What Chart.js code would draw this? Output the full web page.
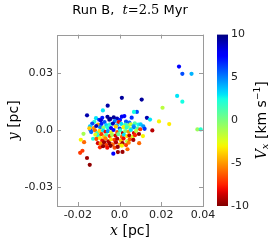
<!DOCTYPE html>
<html>
<head>
<meta charset="utf-8">
<script src="https://cdn.jsdelivr.net/npm/chart.js@4.4.0/dist/chart.umd.min.js"></script>
<style>
html,body{margin:0;padding:0;background:#fff;}
#wrap{width:273px;height:246px;position:relative;}
</style>
</head>
<body>
<div id="wrap"><canvas id="c" width="273" height="246"></canvas></div>
<script>
// ---- data ----
const xTicks = [-0.02, 0.0, 0.02, 0.04];
const xTickLabels = ['-0.02', '0.0', '0.02', '0.04'];
const yTicks = [-0.03, 0.0, 0.03];
const yTickLabels = ['-0.03', '0.0', '0.03'];
const cbTicks = [-10, -5, 0, 5, 10];
const cbTickLabels = ['-10', '-5', '0', '5', '10'];

const posX = [
  0.0285, 0.0301, 0.0345, 0.0276, 0.0301, 0.0206, 0.0189, 0.0238, 0.0373, 0.0389,
  0.0011, 0.0106, -0.0057, -0.0080, -0.0156, 0.0083, 0.0069, 0.0131, 0.0146, 0.0157,
  0.0094, 0.0112, -0.0173, -0.0186, -0.0170, -0.0178, -0.0189, -0.0156, -0.0143, -0.0030,
  -0.0008, 0.0014, 0.0038, -0.0139,
  -0.0113, -0.0098, -0.0083, -0.0058, -0.0044, -0.0028, -0.0012, 0.0011, 0.0023, 0.0058,
  -0.0121, -0.0090, -0.0072, -0.0049, -0.0023, 0.0002, 0.0031, 0.0047, 0.0073, 0.0090,
  0.0101, 0.0114, 0.0120, -0.0004, -0.0131, -0.0103, -0.0087, -0.0064, -0.0046, -0.0032,
  -0.0013, 0.0008, 0.0027, 0.0041, 0.0053, 0.0067, -0.0142, -0.0124, -0.0112, -0.0093,
  -0.0077, -0.0058, -0.0041, -0.0018, 0.0001, 0.0019, 0.0034, 0.0052, 0.0069, 0.0086,
  0.0099, -0.0136, -0.0118, -0.0107, -0.0096, -0.0079, -0.0067, -0.0056, -0.0040, -0.0029,
  -0.0011, 0.0003, 0.0016, 0.0027, 0.0043, 0.0054, 0.0069, 0.0079, 0.0093, -0.0116,
  -0.0101, -0.0087, -0.0074, -0.0063, -0.0047, -0.0036, -0.0019, -0.0006, 0.0011, 0.0021,
  0.0036, 0.0047, 0.0063, 0.0074, -0.0127, -0.0111, -0.0094, -0.0083, -0.0067, -0.0054,
  -0.0041, -0.0024, -0.0011, 0.0006, 0.0019, 0.0036, 0.0049, 0.0066, -0.0104, -0.0091,
  -0.0074, -0.0063, -0.0047, -0.0033, -0.0017, 0.0001, 0.0014, 0.0031, 0.0044, -0.0094,
  -0.0079, -0.0059, -0.0043, -0.0024, -0.0009, 0.0011, -0.0145
];
const posY = [
  0.0332, 0.0294, 0.0294, 0.0178, 0.0148, 0.0116, 0.0044, 0.0030, 0.0002, 0.0002,
  0.0168, 0.0159, 0.0127, 0.0102, 0.0076, 0.0094, 0.0094, 0.0063, 0.0054, -0.0003,
  -0.0070, -0.0033, -0.0021, -0.0052, -0.0065, -0.0110, -0.0121, -0.0148, -0.0184, -0.0125,
  -0.0117, -0.0116, -0.0102, -0.0002,
  0.0061, 0.0053, 0.0063, 0.0068, 0.0057, 0.0066, 0.0059, 0.0069, 0.0072, 0.0064,
  0.0042, 0.0050, 0.0041, 0.0053, 0.0046, 0.0052, 0.0043, 0.0038, 0.0034, 0.0028,
  0.0029, 0.0018, 0.0005, 0.0040, 0.0033, 0.0027, 0.0031, 0.0025, 0.0029, 0.0033,
  0.0023, 0.0031, 0.0027, 0.0022, 0.0029, 0.0020, 0.0018, 0.0009, 0.0020, 0.0014,
  0.0012, 0.0013, 0.0009, 0.0017, 0.0007, 0.0014, 0.0012, 0.0005, 0.0013, 0.0008,
  0.0003, -0.0012, -0.0003, -0.0017, -0.0006, -0.0004, -0.0010, -0.0007, -0.0013, -0.0001,
  -0.0012, -0.0003, -0.0017, -0.0007, -0.0010, -0.0001, -0.0017, -0.0006, -0.0022, -0.0026,
  -0.0034, -0.0023, -0.0037, -0.0026, -0.0033, -0.0027, -0.0030, -0.0023, -0.0037, -0.0026,
  -0.0033, -0.0030, -0.0037, -0.0028, -0.0047, -0.0048, -0.0043, -0.0057, -0.0046, -0.0060,
  -0.0050, -0.0053, -0.0047, -0.0056, -0.0046, -0.0060, -0.0050, -0.0053, -0.0070, -0.0073,
  -0.0066, -0.0080, -0.0072, -0.0076, -0.0066, -0.0077, -0.0070, -0.0080, -0.0068, -0.0092,
  -0.0086, -0.0094, -0.0084, -0.0094, -0.0090, -0.0083, 0.0008
];
const velX = [
  7.5, 6.0, 4.0, 3.0, 2.5, -1.5, -3.0, -3.2, -0.8, 2.0,
  9.5, 9.5, 9.3, 3.0, 9.2, 6.0, 2.5, 9.2, 3.0, -9.0,
  -6.0, -3.0, -1.0, -3.0, -6.0, -7.0, -7.0, -9.5, -9.7, 7.5,
  -9.5, -9.5, -6.0, 6.0,
  3.0, 6.5, 7.0, 9.5, 9.4, 9.6, 9.0, 8.0, 7.5, 6.5,
  2.0, 8.5, 6.0, 9.8, 5.0, 7.0, 6.0, 5.5, 1.0, 2.5,
  3.5, 4.5, 6.5, -8.0, 6.0, -4.5, 7.0, 3.5, 2.0, 9.0,
  4.0, 3.0, 1.5, 0.5, -2.0, 4.0, 3.5, -5.0, 9.0, 5.0,
  -0.5, 2.5, 8.0, -4.0, 6.5, -3.0, 2.0, -1.0, 5.0, 1.0,
  -7.0, 5.5, -6.0, 1.5, -3.5, 3.0, -8.0, 4.5, -2.5, 7.5,
  -6.5, 2.0, -9.0, 0.0, -5.0, 3.0, -8.5, -1.5, -9.5, -2.5,
  2.5, -7.0, -4.0, 1.0, -7.5, -1.0, -8.5, 0.5, -6.0, 3.0,
  -3.5, -9.0, -2.0, -7.5, 2.5, -6.5, -3.0, -8.0, -5.5, -9.0,
  -3.5, -7.0, -9.2, -4.0, -8.0, -1.5, -6.5, -9.3, -8.5, -5.0,
  -9.5, -7.0, -9.6, -6.0, -9.0, -4.5, -9.4, -7.0, -5.5, -7.5,
  -9.7, -8.0, -9.8, -6.5, -9.5, -3.0, -4.0
];

// ---- reversed matplotlib "jet" colormap (jet_r) ----
function seg(t, pts){
  for(let i=1;i<pts.length;i++){
    if(t<=pts[i][0]){
      const a=pts[i-1], b=pts[i];
      return a[1]+(b[1]-a[1])*(t-a[0])/(b[0]-a[0]);
    }
  }
  return pts[pts.length-1][1];
}
function jet(t){
  t=Math.max(0,Math.min(1,t));
  const r=seg(t,[[0,0],[0.35,0],[0.66,1],[0.89,1],[1,0.5]]);
  const g=seg(t,[[0,0],[0.125,0],[0.375,1],[0.64,1],[0.91,0],[1,0]]);
  const b=seg(t,[[0,0.5],[0.11,1],[0.34,1],[0.65,0],[1,0]]);
  return 'rgb('+Math.round(r*255)+','+Math.round(g*255)+','+Math.round(b*255)+')';
}
const vMin=-10, vMax=10;
const colorOf = v => jet((vMax-v)/(vMax-vMin));

const points = posX.map((x,i)=>({x:x, y:posY[i]}));
const colors = velX.map(colorOf);

// ---- mixed-font text helper ----
const SANS = '"DejaVu Sans", sans-serif';
const SERIF = '"DejaVu Serif", serif';
function drawRuns(ctx, runs, cx, cy, rot){
  ctx.save();
  ctx.translate(cx, cy);
  if(rot) ctx.rotate(rot);
  let total=0;
  runs.forEach(r=>{ctx.font=r.font; r.w=ctx.measureText(r.t).width; total+=r.w;});
  let x=-total/2;
  ctx.fillStyle='#000';
  ctx.textBaseline='alphabetic';
  ctx.textAlign='left';
  runs.forEach(r=>{ctx.font=r.font; ctx.fillText(r.t, x, r.dy||0); x+=r.w;});
  ctx.restore();
}

const titleRuns = [
  {t:'Run B,  ', font:'13px '+SANS},
  {t:'t', font:'italic 13px '+SERIF},
  {t:'=', font:'13px '+SERIF},
  {t:'2.5', font:'13px '+SERIF},
  {t:' Myr', font:'13px '+SANS}
];
const xTitleRuns = [
  {t:'x', font:'italic 14px '+SERIF},
  {t:' [pc]', font:'14px '+SANS}
];
const yTitleRuns = [
  {t:'y', font:'italic 14px '+SERIF},
  {t:' [pc]', font:'14px '+SANS}
];
const cbTitleRuns = [
  {t:'V', font:'italic 14px '+SERIF},
  {t:'x', font:'italic 10px '+SERIF, dy:2},
  {t:' [km s', font:'14px '+SANS},
  {t:'\u22121', font:'9px '+SANS, dy:-6},
  {t:']', font:'14px '+SANS}
];

const decor = {
  id:'decor',
  beforeDatasetsDraw(chart){
    const ctx=chart.ctx, cb=chart.scales.cb;
    const top=cb.getPixelForValue(vMax), bot=cb.getPixelForValue(vMin);
    const x0=cb.left+14, w=11;
    const g=ctx.createLinearGradient(0,bot,0,top);
    for(let i=0;i<=40;i++){ g.addColorStop(i/40, colorOf(vMin+(vMax-vMin)*i/40)); }
    ctx.save();
    ctx.fillStyle=g;
    ctx.fillRect(x0, top, w, bot-top);
    ctx.restore();
  },
  afterDraw(chart){
    const ctx=chart.ctx, a=chart.chartArea, sx=chart.scales.x, sy=chart.scales.y;
    ctx.save();
    ctx.strokeStyle='#9a9a9a';
    ctx.lineWidth=1;
    ctx.strokeRect(Math.round(a.left)+0.5, Math.round(a.top)+0.5, Math.round(a.right-a.left), Math.round(a.bottom-a.top));
    ctx.beginPath();
    const tl=4;
    xTicks.forEach(v=>{
      const p=Math.round(sx.getPixelForValue(v))+0.5;
      ctx.moveTo(p,a.bottom); ctx.lineTo(p,a.bottom-tl);
      ctx.moveTo(p,a.top); ctx.lineTo(p,a.top+tl);
    });
    yTicks.forEach(v=>{
      const p=Math.round(sy.getPixelForValue(v))+0.5;
      ctx.moveTo(a.left,p); ctx.lineTo(a.left+tl,p);
      ctx.moveTo(a.right,p); ctx.lineTo(a.right-tl,p);
    });
    ctx.stroke();
    ctx.restore();
    const cx=(a.left+a.right)/2;
    drawRuns(ctx, titleRuns, cx, 14, 0);
    drawRuns(ctx, xTitleRuns, cx, 235, 0);
    drawRuns(ctx, yTitleRuns, 18, (a.top+a.bottom)/2, -Math.PI/2);
    drawRuns(ctx, cbTitleRuns, 266, (a.top+a.bottom)/2, -Math.PI/2);
  }
};

new Chart(document.getElementById('c'), {
  type:'scatter',
  data:{datasets:[{
    data:points,
    backgroundColor:colors,
    borderWidth:0,
    pointRadius:2.1,
    pointHoverRadius:2.1
  }]},
  options:{
    responsive:false,
    animation:false,
    devicePixelRatio:1,
    events:[],
    layout:{padding:{left:0,right:0,top:17,bottom:0}},
    plugins:{legend:{display:false}, tooltip:{enabled:false}, title:{display:false}},
    scales:{
      x:{
        type:'linear', min:-0.03, max:0.04,
        afterBuildTicks:s=>{s.ticks=xTicks.map(v=>({value:v}));},
        afterFit:s=>{s.height=40;},
        grid:{display:false, drawTicks:false},
        border:{display:false},
        ticks:{padding:3, color:'#222', font:{family:SANS, size:11}, maxRotation:0,
               callback:(v,i)=>xTickLabels[i]}
      },
      y:{
        type:'linear', min:-0.04, max:0.05,
        afterBuildTicks:s=>{s.ticks=yTicks.map(v=>({value:v}));},
        afterFit:s=>{s.width=57;},
        grid:{display:false, drawTicks:false},
        border:{display:false},
        ticks:{padding:4, color:'#222', font:{family:SANS, size:11},
               callback:(v,i)=>yTickLabels[i]}
      },
      cb:{
        type:'linear', position:'right', min:vMin, max:vMax,
        afterBuildTicks:s=>{s.ticks=cbTicks.map(v=>({value:v}));},
        afterFit:s=>{s.width=70;},
        grid:{display:false, drawTicks:false},
        border:{display:false},
        ticks:{padding:28, color:'#222', font:{family:SANS, size:11},
               callback:(v,i)=>cbTickLabels[i]}
      }
    }
  },
  plugins:[decor]
});
</script>
</body>
</html>
